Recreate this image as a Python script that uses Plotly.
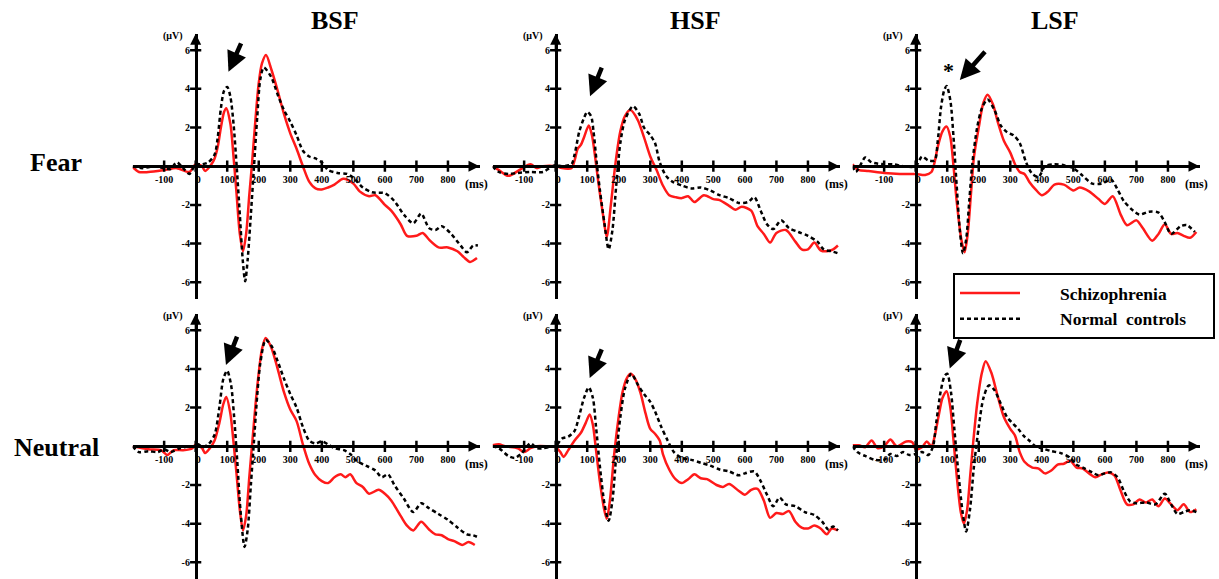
import plotly.graph_objects as go

# ---------------- data (ms, µV) ----------------
bsf_fear_scz_t = [-200,-180,-150,-100,-60,-20,0,20,30,50,60,70,80,90,97,110,120,130,140,150,160,170,178,190,200,210,223,240,260,280,300,320,340,360,380,400,420,440,468,500,520,550,570,600,620,650,670,700,720,740,770,800,830,850,870,892]
bsf_fear_scz_v = [-0.05,-0.3,-0.3,-0.2,-0.1,-0.3,0.1,0.0,-0.25,0.1,0.4,1.0,2.0,2.8,3.0,2.2,0.5,-1.5,-3.5,-4.4,-3.5,-1.5,0.0,2.5,4.3,5.3,5.75,5.0,3.9,2.7,1.7,0.9,0.0,-0.8,-1.15,-1.2,-1.1,-0.95,-0.65,-0.9,-1.3,-1.55,-1.5,-2.0,-2.3,-3.0,-3.6,-3.6,-3.45,-3.8,-4.2,-4.2,-4.4,-4.7,-4.95,-4.75]
bsf_fear_nc_t = [-200,-170,-130,-100,-80,-60,-40,-20,0,20,40,60,70,80,90,100,110,120,130,140,150,157,165,175,185,195,205,216,240,260,280,300,320,340,360,380,400,420,450,480,500,530,560,600,630,660,690,715,740,760,780,810,840,860,880,895]
bsf_fear_nc_v = [0.0,-0.1,0.0,-0.1,-0.15,0.2,-0.1,-0.4,0.1,0.1,0.2,0.6,1.5,3.0,3.9,4.1,3.6,2.2,0.0,-2.5,-5.0,-5.95,-4.8,-2.5,0.0,2.5,4.5,5.1,4.6,3.7,2.9,2.3,1.6,0.8,0.5,0.4,0.2,-0.2,-0.35,-0.4,-0.6,-1.1,-1.35,-1.4,-1.8,-2.5,-2.95,-2.45,-3.2,-3.3,-3.1,-3.5,-4.1,-4.45,-4.1,-4.1]

hsf_fear_scz_t = [-200,-180,-150,-110,-80,-60,-40,0,20,50,60,70,80,90,105,115,125,135,150,162,175,190,205,220,237,260,280,300,320,340,360,380,400,420,440,470,500,520,550,570,590,620,640,660,680,700,730,760,780,800,820,840,860,880,895]
hsf_fear_scz_v = [0.0,-0.2,-0.5,-0.15,0.1,-0.1,0.0,0.0,-0.1,-0.1,0.3,0.9,1.1,1.5,2.1,1.6,0.5,-0.8,-2.5,-3.65,-2.0,0.2,1.8,2.6,2.9,2.4,1.5,0.5,-0.2,-1.0,-1.5,-1.6,-1.65,-1.55,-1.85,-1.5,-1.7,-1.75,-2.05,-2.25,-2.1,-2.3,-3.1,-3.5,-3.95,-3.45,-3.3,-3.9,-4.3,-4.3,-3.95,-4.35,-4.4,-4.3,-4.1]
hsf_fear_nc_t = [-200,-180,-150,-120,-80,-40,-20,0,20,50,60,75,90,100,112,120,130,140,155,168,180,192,205,220,245,265,280,300,315,330,350,370,400,430,460,490,520,550,580,610,630,650,670,690,715,740,770,800,830,850,875,895]
hsf_fear_nc_v = [0.0,-0.3,-0.4,-0.35,-0.3,-0.3,-0.1,0.05,0.0,0.1,0.6,1.8,2.5,2.8,2.6,1.8,0.2,-1.2,-3.0,-4.3,-3.3,-1.0,1.2,2.4,3.1,2.7,2.0,1.6,1.2,0.2,-0.5,-0.8,-1.0,-1.15,-1.1,-1.25,-1.5,-1.65,-1.9,-1.85,-1.6,-2.3,-3.0,-3.25,-2.8,-3.2,-3.4,-3.6,-3.9,-4.3,-4.4,-4.5]

lsf_fear_scz_t = [-200,-190,-180,-150,-100,-50,0,30,50,60,70,85,98,110,120,130,145,155,165,175,185,200,215,228,245,260,280,300,315,330,345,360,380,400,420,440,470,500,520,550,580,600,625,650,670,700,720,750,770,790,810,830,850,870,890]
lsf_fear_scz_v = [0.1,-0.1,-0.2,-0.25,-0.35,-0.4,-0.4,-0.45,-0.3,0.2,1.0,1.8,2.05,1.5,0.0,-1.8,-3.8,-4.45,-3.5,-1.5,0.5,2.0,3.3,3.7,3.2,2.3,1.3,0.7,0.1,-0.3,-0.4,-0.8,-1.2,-1.5,-1.3,-0.95,-0.95,-1.25,-1.1,-1.3,-1.7,-1.95,-1.55,-2.5,-3.05,-2.8,-3.2,-3.85,-3.5,-3.0,-3.5,-3.45,-3.6,-3.7,-3.4]
lsf_fear_nc_t = [-200,-190,-180,-160,-140,-100,-70,-40,0,20,40,60,70,80,90,98,110,120,130,140,150,160,170,180,195,210,228,250,270,290,310,330,350,370,390,410,440,470,500,530,560,590,620,640,660,690,710,740,770,790,810,840,860,885]
lsf_fear_nc_v = [0.0,-0.3,-0.1,0.45,0.2,0.1,0.1,0.0,0.0,0.5,0.3,0.3,1.3,3.0,3.9,4.15,3.4,1.5,-1.0,-3.3,-4.5,-3.8,-1.8,0.2,2.0,3.0,3.45,2.9,2.1,1.75,1.6,1.2,0.2,-0.4,-0.55,0.0,0.1,0.05,-0.1,-0.5,-0.9,-0.9,-0.7,-1.2,-1.8,-2.3,-2.5,-2.35,-2.4,-2.9,-3.5,-3.1,-3.05,-3.4]

bsf_neu_scz_t = [-200,-150,-110,-90,-70,-40,-10,0,20,30,45,60,75,88,97,110,120,130,140,150,160,170,180,190,200,210,222,240,260,280,300,320,340,360,380,400,420,440,460,475,490,510,530,550,580,600,620,650,670,690,715,740,760,780,800,820,845,865,885]
bsf_neu_scz_v = [0.0,-0.15,-0.2,-0.45,-0.2,-0.2,-0.1,0.1,-0.1,-0.35,-0.1,0.3,1.2,2.2,2.55,1.7,0.2,-1.5,-3.3,-4.35,-3.6,-1.6,0.3,2.2,3.8,5.0,5.6,5.1,4.0,2.8,1.9,1.3,0.1,-0.9,-1.5,-1.8,-1.9,-1.6,-1.45,-1.6,-1.45,-1.9,-2.1,-2.45,-2.25,-2.45,-2.8,-3.6,-4.1,-4.35,-3.9,-4.3,-4.55,-4.6,-4.8,-4.9,-5.1,-4.95,-5.1]
bsf_neu_nc_t = [-200,-180,-150,-120,-100,-80,-50,-20,0,10,20,40,60,75,88,100,112,122,132,142,155,165,175,185,195,205,222,240,260,280,300,320,340,360,380,400,420,440,470,490,510,540,570,590,610,630,660,690,715,740,770,800,830,860,880,895]
bsf_neu_nc_v = [0.0,-0.3,-0.25,-0.3,-0.15,-0.3,-0.1,0.0,0.0,0.1,-0.05,0.1,0.6,2.0,3.5,3.9,3.2,1.5,-0.8,-3.3,-5.2,-4.3,-2.0,0.3,2.6,4.3,5.5,5.2,4.4,3.5,2.7,2.0,1.0,0.3,0.15,0.25,0.1,-0.1,-0.2,-0.4,-0.75,-1.0,-1.25,-1.6,-1.45,-2.0,-2.7,-3.4,-2.95,-3.2,-3.5,-3.8,-4.2,-4.55,-4.6,-4.7]

hsf_neu_scz_t = [-200,-180,-160,-120,-100,-80,-60,-30,0,15,25,40,60,80,95,108,118,128,140,153,162,172,185,198,212,225,238,255,270,285,300,315,330,340,360,380,400,420,440,460,480,510,530,550,580,600,620,640,660,680,700,720,740,760,780,800,820,840,860,875,895]
hsf_neu_scz_v = [0.05,0.1,0.0,-0.1,-0.3,-0.1,0.0,0.0,-0.05,-0.3,-0.55,-0.2,0.3,0.7,1.2,1.65,1.1,-0.2,-1.8,-3.2,-3.75,-2.8,-0.5,1.3,2.8,3.5,3.75,3.4,2.7,1.7,0.9,0.65,0.3,-0.4,-1.2,-1.7,-1.9,-1.7,-1.45,-1.65,-1.7,-2.0,-2.1,-1.95,-2.3,-2.5,-2.25,-2.2,-2.8,-3.7,-3.45,-3.5,-3.35,-3.9,-4.2,-4.25,-4.1,-4.25,-4.55,-4.25,-4.35]
hsf_neu_nc_t = [-200,-180,-150,-130,-110,-80,-60,-40,-10,0,20,40,60,75,90,105,118,128,140,155,168,180,192,205,220,240,260,280,300,315,335,355,375,400,430,460,490,520,550,580,600,630,650,670,690,710,730,760,790,820,845,865,880,895]
hsf_neu_nc_v = [0.0,-0.1,-0.5,-0.6,-0.4,0.15,-0.1,-0.1,0.0,0.0,0.4,0.5,0.8,1.6,2.5,3.05,2.5,1.0,-1.0,-3.0,-3.85,-2.8,-0.5,1.5,3.0,3.75,3.2,2.7,2.3,1.8,1.0,0.3,-0.3,-0.6,-0.7,-0.85,-1.0,-1.2,-1.3,-1.5,-1.4,-1.3,-1.8,-2.5,-3.1,-2.65,-3.0,-3.1,-3.4,-3.55,-3.9,-4.3,-4.15,-4.35]

lsf_neu_scz_t = [-200,-180,-160,-140,-120,-100,-80,-60,-30,-10,0,20,35,50,60,72,85,98,110,120,130,143,153,163,173,183,195,210,222,240,260,280,300,315,330,345,370,390,410,430,450,470,490,510,530,550,570,590,610,630,650,670,690,710,730,750,770,790,810,830,850,870,890]
lsf_neu_scz_v = [0.05,0.05,-0.05,0.3,-0.1,0.0,0.35,0.0,0.25,0.2,-0.15,-0.05,0.25,0.0,0.5,1.5,2.5,2.85,2.0,0.3,-1.5,-3.4,-4.0,-3.3,-1.5,0.3,2.2,3.8,4.4,3.8,2.6,1.5,0.9,0.55,-0.3,-0.8,-1.1,-1.15,-1.4,-1.25,-0.95,-0.9,-0.75,-1.1,-1.15,-1.4,-1.6,-1.45,-1.35,-1.5,-2.3,-3.0,-3.0,-2.75,-2.9,-2.75,-3.1,-2.7,-3.0,-3.3,-3.0,-3.4,-3.25]
lsf_neu_nc_t = [-200,-185,-160,-130,-100,-80,-60,-40,-20,0,20,40,55,65,80,92,100,112,122,135,148,160,172,185,200,215,232,250,270,290,310,325,345,360,380,400,430,460,490,510,530,560,580,600,620,640,660,680,700,730,760,790,810,830,850,870,890]
lsf_neu_nc_v = [0.0,-0.3,-0.5,-0.7,-0.7,-0.4,-0.5,-0.3,-0.45,-0.4,-0.3,-0.45,0.0,1.2,2.9,3.65,3.75,2.8,1.0,-1.3,-3.3,-4.4,-3.3,-1.0,1.0,2.5,3.15,2.9,2.2,1.5,1.15,0.9,0.5,0.3,0.0,-0.1,-0.25,-0.35,-0.6,-0.95,-1.1,-1.35,-1.5,-1.4,-1.35,-1.6,-2.3,-2.85,-2.95,-2.9,-3.0,-2.45,-3.0,-3.5,-3.4,-3.3,-3.4]

panel_titles = ["BSF", "HSF", "LSF"]
row_labels = ["Fear", "Neutral"]
series_names = ["Schizophrenia", "Normal\u00a0\u00a0controls"]
x_tick_vals = [-100, 0, 100, 200, 300, 400, 500, 600, 700, 800]
x_tick_text = ["-100", "\u00a0\u00a00", "100", "200", "300", "400", "500", "600", "700", "800"]
y_tick_vals = [-6, -4, -2, 2, 4, 6]
y_tick_text = ["-6", "-4", "-2", "2", "4", "6"]

panels = [
    [(bsf_fear_scz_t, bsf_fear_scz_v, bsf_fear_nc_t, bsf_fear_nc_v),
     (hsf_fear_scz_t, hsf_fear_scz_v, hsf_fear_nc_t, hsf_fear_nc_v),
     (lsf_fear_scz_t, lsf_fear_scz_v, lsf_fear_nc_t, lsf_fear_nc_v)],
    [(bsf_neu_scz_t, bsf_neu_scz_v, bsf_neu_nc_t, bsf_neu_nc_v),
     (hsf_neu_scz_t, hsf_neu_scz_v, hsf_neu_nc_t, hsf_neu_nc_v),
     (lsf_neu_scz_t, lsf_neu_scz_v, lsf_neu_nc_t, lsf_neu_nc_v)],
]

# P1 pointer arrows: (tail_x, tail_y, tip_x, tip_y) per panel
p1_arrows = [
    [(146, 6.43, 104, 4.88), (148, 5.17, 109, 3.62), (224, 6.0, 140, 4.45)],
    [(133, 5.75, 96, 4.2), (148, 5.09, 108, 3.53), (143, 5.58, 108, 4.02)],
]
star_pos = (0, 2, 105, 4.93)  # row, col, x, y

# ---------------- layout geometry ----------------
W, H = 1219, 579
XR = [-200, 900]
YR = [-6.85, 6.85]
col_px = [(132.6 + 360 * c, 479.5 + 360 * c) for c in range(3)]
row_px = [(33.7, 298.7), (313.8, 578.8)]  # top, bottom

SERIF = "Liberation Serif"
RED = "#ff1a1a"

fig = go.Figure()
layout = dict(width=W, height=H, margin=dict(l=0, r=0, t=0, b=0), autosize=False,
              paper_bgcolor="white", plot_bgcolor="rgba(0,0,0,0)", showlegend=True,
              hovermode=False)
annotations = []

idx = 0
for r in range(2):
    for c in range(3):
        idx += 1
        xs = "" if idx == 1 else str(idx)
        xa, ya = "x" + xs, "y" + xs
        x0, x1 = col_px[c]
        top, bot = row_px[r]
        xdom = [x0 / W, x1 / W]
        ydom = [(H - bot) / H, (H - top) / H]
        zero_xfrac = xdom[0] + (0 - XR[0]) / (XR[1] - XR[0]) * (xdom[1] - xdom[0])
        zero_yfrac = ydom[0] + (0 - YR[0]) / (YR[1] - YR[0]) * (ydom[1] - ydom[0])
        tick_font = dict(family=SERIF, size=10, color="black", weight="bold")
        layout["xaxis" + xs] = dict(domain=xdom, range=XR, anchor="free", position=zero_yfrac,
                                    showline=True, linecolor="black", linewidth=2.5,
                                    showgrid=False, zeroline=False, ticks="",
                                    tickvals=x_tick_vals, ticktext=x_tick_text,
                                    tickfont=tick_font, ticklabelstandoff=3, fixedrange=True)
        layout["yaxis" + xs] = dict(domain=ydom, range=YR, anchor="free", position=zero_xfrac,
                                    showline=True, linecolor="black", linewidth=2.5,
                                    showgrid=False, zeroline=False, ticks="",
                                    tickvals=y_tick_vals, ticktext=y_tick_text,
                                    tickfont=tick_font, ticklabelstandoff=3, fixedrange=True)

        st, sv, nt, nv = panels[r][c]
        fig.add_trace(go.Scatter(x=st, y=sv, mode="lines", name="\u00a0" * 8 + series_names[0],
                                 line=dict(color=RED, width=2.5, shape="spline", smoothing=0.8),
                                 legendgroup="scz", showlegend=(idx == 1), xaxis=xa, yaxis=ya))
        fig.add_trace(go.Scatter(x=nt, y=nv, mode="lines",
                                 name="\u00a0" * 8 + series_names[1] + "\u00a0" * 5,
                                 line=dict(color="black", width=2.5, dash="4px,3px",
                                           shape="spline", smoothing=0.8),
                                 legendgroup="nc", showlegend=(idx == 1), xaxis=xa, yaxis=ya))
        # crossing tick marks
        fig.add_trace(go.Scatter(x=x_tick_vals, y=[0] * len(x_tick_vals), mode="markers",
                                 marker=dict(symbol="line-ns", size=8, line=dict(width=2.5, color="black")),
                                 showlegend=False, xaxis=xa, yaxis=ya))
        fig.add_trace(go.Scatter(x=[0] * len(y_tick_vals), y=y_tick_vals, mode="markers",
                                 marker=dict(symbol="line-ew", size=8, line=dict(width=2.5, color="black")),
                                 showlegend=False, xaxis=xa, yaxis=ya))
        # axis arrowheads
        annotations.append(dict(xref=xa, yref=ya, axref=xa, ayref=ya, x=XR[1], y=0, ax=XR[1] - 40, ay=0,
                                text="", showarrow=True, arrowhead=2, arrowwidth=2, arrowsize=1.1,
                                arrowcolor="black"))
        annotations.append(dict(xref=xa, yref=ya, axref=xa, ayref=ya, x=0, y=YR[1], ax=0, ay=YR[1] - 1,
                                text="", showarrow=True, arrowhead=2, arrowwidth=2, arrowsize=1.1,
                                arrowcolor="black"))
        # unit labels
        annotations.append(dict(xref=xa, yref=ya, x=-72, y=6.75, text="(μV)", showarrow=False,
                                xanchor="center", yanchor="middle",
                                font=dict(family=SERIF, size=10, color="black", weight="bold")))
        annotations.append(dict(xref=xa, yref=ya, x=890, y=-0.9, text="(ms)", showarrow=False,
                                xanchor="center", yanchor="middle",
                                font=dict(family=SERIF, size=12, color="black", weight="bold")))
        # P1 arrow
        tx, ty, hx, hy = p1_arrows[r][c]
        annotations.append(dict(xref=xa, yref=ya, axref=xa, ayref=ya, x=hx, y=hy, ax=tx, ay=ty,
                                text="", showarrow=True, arrowhead=2, arrowwidth=4.5, arrowsize=0.9,
                                arrowcolor="black"))
        if r == 0:
            annotations.append(dict(xref=xa, yref="paper", x=442, y=1 - 20 / H, text=panel_titles[c],
                                    showarrow=False, xanchor="center", yanchor="middle",
                                    font=dict(family=SERIF, size=26, color="black", weight="bold")))
        if star_pos[0] == r and star_pos[1] == c:
            annotations.append(dict(xref=xa, yref=ya, x=star_pos[2], y=star_pos[3], text="*",
                                    showarrow=False, xanchor="center", yanchor="middle",
                                    font=dict(family=SERIF, size=22, color="black", weight="bold")))

for r, lab in enumerate(row_labels):
    yc = [163, 447][r]
    annotations.append(dict(xref="paper", yref="paper", x=56 / W, y=1 - yc / H, text=lab,
                            showarrow=False, xanchor="center", yanchor="middle",
                            font=dict(family=SERIF, size=26, color="black", weight="bold")))

layout["annotations"] = annotations
layout["legend"] = dict(x=953 / W, y=1 - 273 / H, xanchor="left", yanchor="top",
                        bgcolor="white", bordercolor="black", borderwidth=2,
                        itemwidth=60, font=dict(family=SERIF, size=17.5, color="black", weight="bold"),
                        tracegroupgap=0)
fig.update_layout(**layout)
fig.write_html("out.html", config={"displayModeBar": False},
               post_script="document.body.style.margin='0';document.body.style.overflow='hidden';")
